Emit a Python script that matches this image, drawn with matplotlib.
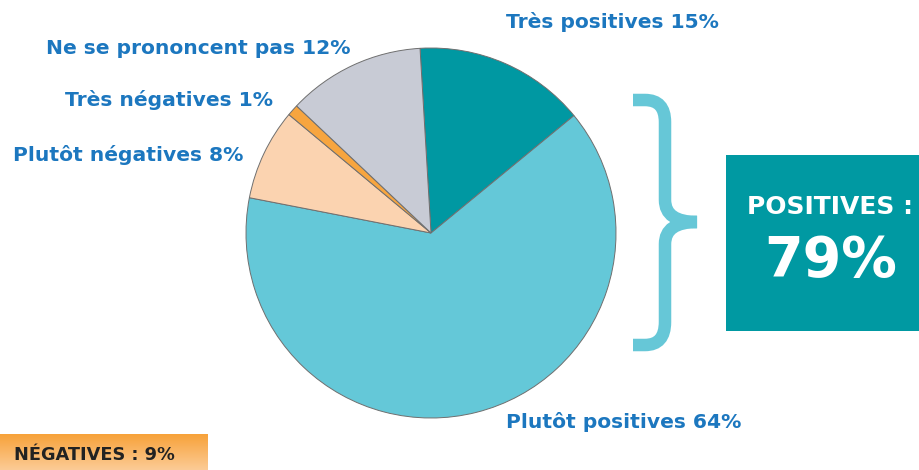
"""Pie chart of opinions with positive / negative summary boxes."""

import numpy as np
import matplotlib
matplotlib.use("Agg")
import matplotlib.pyplot as plt
from matplotlib.patches import Rectangle, PathPatch
from matplotlib.path import Path

# data, clockwise from the top
labels = ["Très positives", "Plutôt positives", "Plutôt négatives",
          "Très négatives", "Ne se prononcent pas"]
values = [15, 64, 8, 1, 12]
colors = ["#0098A2", "#64C8D8", "#FBD3B0", "#F7A53F", "#C8CBD5"]
pos_total = 79
neg_total = 9

W, H = 919, 470
plt.rcParams["font.family"] = ["DejaVu Sans"]
fig = plt.figure(figsize=(W / 100, H / 100), dpi=100)
ax = fig.add_axes([0, 0, 1, 1])


def Y(y):
    # image-style y (from top) -> axes y
    return H - y


ax.pie(values, colors=colors, startangle=93.4, counterclock=False,
       center=(431, Y(233)), radius=185, frame=True,
       wedgeprops=dict(edgecolor="#6f6f6f", linewidth=0.7))

BLUE = "#1C77BF"
lab_pos = [(612, 22), (624, 422), (128, 155), (169, 100), (198, 48)]
for (x, y), lab, v in zip(lab_pos, labels, values):
    ax.text(x, Y(y), f"{lab} {v}%", ha="center", va="center", fontsize=14.6,
            fontweight="bold", color=BLUE)

# curly brace
BR = "#66C7D7"
verts = [(633, 100), (645, 100), (665, 100), (665, 122), (665, 200),
         (665, 222), (697, 222), (665, 222), (665, 244), (665, 322),
         (665, 345), (645, 345), (633, 345)]
codes = [Path.MOVETO, Path.LINETO, Path.CURVE3, Path.CURVE3, Path.LINETO,
         Path.CURVE3, Path.CURVE3, Path.CURVE3, Path.CURVE3, Path.LINETO,
         Path.CURVE3, Path.CURVE3, Path.LINETO]
verts = [(x, Y(y)) for x, y in verts]
ax.add_patch(PathPatch(Path(verts, codes), fill=False, edgecolor=BR,
                       linewidth=9, capstyle="butt", joinstyle="miter"))

# positive box
ax.add_patch(Rectangle((726, Y(331)), W - 726, 176, facecolor="#0099A2",
                       edgecolor="none"))
ax.text(830, Y(207), "POSITIVES :", ha="center", va="center", fontsize=18,
        color="white", fontweight="bold")
ax.text(831, Y(261), f"{pos_total}%", ha="center", va="center", fontsize=40,
        color="white", fontweight="bold")

# negative box with a vertical gradient
grad = np.linspace(0, 1, 50).reshape(-1, 1)
cmap = matplotlib.colors.LinearSegmentedColormap.from_list(
    "neg", ["#F7A23A", "#FCCB95"])
ax.imshow(grad, cmap=cmap, extent=(0, 208, Y(470), Y(434)), aspect="auto",
          origin="upper", zorder=1)
ax.text(14, Y(455), f"NÉGATIVES : {neg_total}%", ha="left", va="center",
        fontsize=12.8, color="#222222", fontweight="bold", zorder=2)

ax.set_xlim(0, W)
ax.set_ylim(0, H)
ax.set_aspect("auto")
ax.axis("off")

fig.savefig("out.png", dpi=100, facecolor="white")
